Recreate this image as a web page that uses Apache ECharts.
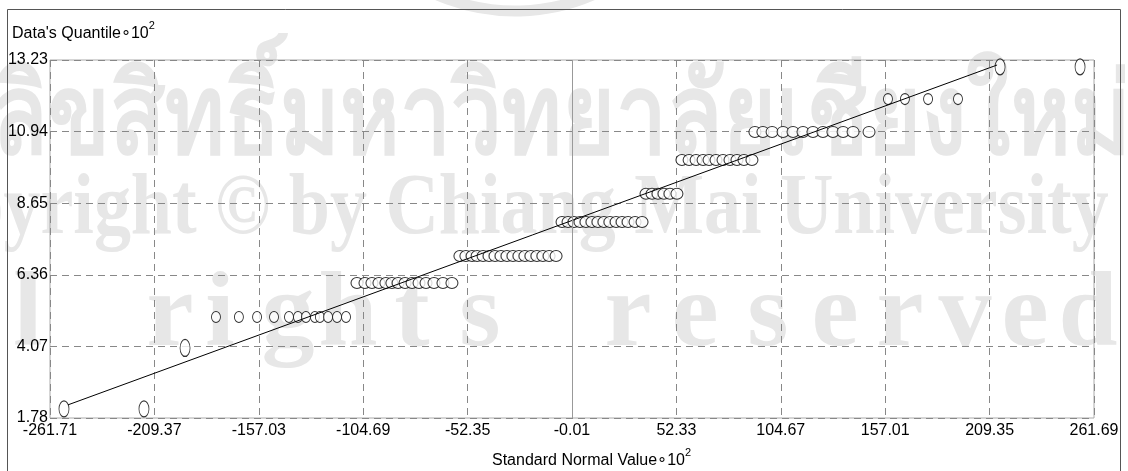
<!DOCTYPE html>
<html>
<head>
<meta charset="utf-8">
<title>Q-Q plot</title>
<script src="https://cdn.jsdelivr.net/npm/echarts@6/dist/echarts.min.js"></script>
<style>
  html, body { margin: 0; padding: 0; background: #fff; }
  #qq { width: 1128px; height: 471px; }
</style>
</head>
<body>
<div id="qq"></div>
<script>
// tick labels of both axes
var xTicks = [-261.71, -209.37, -157.03, -104.69, -52.35, -0.01, 52.33, 104.67, 157.01, 209.35, 261.69];
var yTicks = [1.78, 4.07, 6.36, 8.65, 10.94, 13.23];

// standard normal quantile (x100) of each observation
var normalX = [
  -254.7, -214.6,
  -194.0,
  -178.5, -167.0, -157.9, -149.4, -141.9, -137.4, -133.4, -128.9, -126.4, -122.3, -117.8, -113.3,
  -107.8, -103.8, -100.3, -96.8, -93.3, -90.3, -87.2, -83.7, -80.2, -76.7, -73.2, -69.2, -64.7, -60.2,
  -56.2, -53.2, -50.1, -47.6, -44.6, -41.6, -38.6, -35.6, -32.6, -29.6, -26.6, -23.6, -20.6, -17.6, -14.6, -11.5, -8.0,
  -5.0, -2.0, 1.0, 4.0, 7.0, 10.0, 13.0, 16.0, 19.0, 22.1, 25.1, 28.1, 31.6, 35.1,
  37.1, 40.1, 43.1, 46.1, 49.1, 52.6,
  55.1, 58.7, 62.2, 65.7, 68.7, 72.2, 75.7, 79.2, 82.7, 86.2, 90.2,
  91.7, 95.7, 100.3, 105.8, 110.8, 115.8, 120.8, 125.8, 130.8, 135.9, 140.9, 148.9,
  158.4, 166.9, 178.5, 193.5,
  214.6, 254.7
];
// data quantile (x100) of each observation
var dataY = [
  2.07, 2.07,
  4.02,
  5.01, 5.01, 5.01, 5.01, 5.01, 5.01, 5.01, 5.01, 5.01, 5.01, 5.01, 5.01,
  6.10, 6.10, 6.10, 6.10, 6.10, 6.10, 6.10, 6.10, 6.10, 6.10, 6.10, 6.10, 6.10, 6.10,
  6.96, 6.96, 6.96, 6.96, 6.96, 6.96, 6.96, 6.96, 6.96, 6.96, 6.96, 6.96, 6.96, 6.96, 6.96, 6.96, 6.96,
  8.05, 8.05, 8.05, 8.05, 8.05, 8.05, 8.05, 8.05, 8.05, 8.05, 8.05, 8.05, 8.05, 8.05,
  8.95, 8.95, 8.95, 8.95, 8.95, 8.95,
  10.03, 10.03, 10.03, 10.03, 10.03, 10.03, 10.03, 10.03, 10.03, 10.03, 10.03,
  10.93, 10.93, 10.93, 10.93, 10.93, 10.93, 10.93, 10.93, 10.93, 10.93, 10.93, 10.93,
  11.98, 11.98, 11.98, 11.98,
  13.01, 13.01
];
// reference line end points
var lineX = [-252.7, 213.1];
var lineY = [2.20, 13.07];

var FONT = "'Liberation Sans', Arial, sans-serif";
var SERIF = '"Liberation Serif", "DejaVu Serif", serif';
var WM = '#e7e7e7';

var points = normalX.map(function (x, i) { return [x, dataY[i]]; });
var refLine = lineX.map(function (x, i) { return [x, lineY[i]]; });

// watermark "All rights reserved", spread letter by letter
var wmLetters = 'lrightsreserved'.split('');
var wmLetterX = [28, 170, 220, 288, 348, 412, 480, 628, 695, 768, 835, 900, 965, 1025, 1088];
var wmRow = wmLetters.map(function (ch, i) {
  return {
    type: 'text', z: -1, silent: true, x: wmLetterX[i], y: 318,
    style: { text: ch, fill: WM, font: 'bold 106px ' + SERIF, align: 'center', verticalAlign: 'middle' }
  };
});

var titleRich = {
  a: { fontFamily: FONT, fontSize: 16, color: '#000', verticalAlign: 'bottom', lineHeight: 22 },
  s: { fontFamily: FONT, fontSize: 11, color: '#000', verticalAlign: 'top', lineHeight: 22 }
};

var myChart = echarts.init(document.getElementById('qq'));
var option = {
  backgroundColor: '#fff',
  animation: false,
  grid: {
    left: 50, top: 60, right: 34, bottom: 53,
    outerBoundsMode: 'none',
    show: true, borderColor: '#aaa', borderWidth: 1, backgroundColor: 'transparent'
  },
  xAxis: {
    type: 'value',
    min: xTicks[0], max: xTicks[xTicks.length - 1],
    interval: xTicks[1] - xTicks[0],
    axisLine: { show: false },
    axisTick: { show: false },
    axisLabel: {
      color: '#000', fontFamily: FONT, fontSize: 16, margin: 5,
      formatter: function (v) { return v.toFixed(2); }
    },
    splitLine: { lineStyle: { color: '#888', type: [7, 5], width: 1 } }
  },
  yAxis: {
    type: 'value',
    min: yTicks[0], max: yTicks[yTicks.length - 1],
    interval: yTicks[1] - yTicks[0],
    axisLine: { show: false },
    axisTick: { show: false },
    axisLabel: {
      color: '#000', fontFamily: FONT, fontSize: 16, margin: 2,
      formatter: function (v) { return v.toFixed(2); }
    },
    splitLine: { lineStyle: { color: '#888', type: [7, 5], width: 1 } }
  },
  series: [
    {
      type: 'scatter',
      data: points,
      symbol: 'circle',
      symbolSize: function (v) {
        if (v[1] < 3 || v[1] > 12.5) return [10, 16];
        if (v[1] < 4.5) return [10, 17];
        if (v[1] < 5.5 || (v[1] > 11.5 && v[1] < 12.5)) return [9, 11];
        return [12, 11];
      },
      itemStyle: { color: '#fff', borderColor: '#000', borderWidth: 1 },
      z: 2,
      markLine: {
        silent: true,
        symbol: 'none',
        label: { show: false },
        lineStyle: { color: '#999', type: 'solid', width: 1 },
        data: [{ xAxis: 0 }]
      }
    },
    {
      type: 'line',
      data: refLine,
      symbol: 'none',
      lineStyle: { color: '#000', width: 1 },
      z: 3
    }
  ],
  graphic: {
    elements: [
      // watermark
      {
        type: 'arc', z: -1, silent: true,
        shape: { cx: 515, cy: -185, r: 196, startAngle: 0.35, endAngle: Math.PI - 0.35 },
        style: { stroke: WM, lineWidth: 11, fill: null }
      },
      {
        type: 'text', z: -1, silent: true, x: -8, y: 68, scaleX: 0.81,
        style: { text: 'ลิขสิทธิ์มหาวิทยาลัยเชียงใหม่', fill: WM, font: 'bold 112px ' + SERIF }
      },
      {
        type: 'text', z: -1, silent: true, x: -128, y: 168, scaleX: 0.86,
        style: { text: 'Copyright \u00A9 by Chiang Mai University', fill: WM, font: 'bold 86px ' + SERIF }
      }
    ].concat(wmRow).concat([
      // outer frame
      {
        type: 'rect', z: 10, silent: true,
        shape: { x: 7.5, y: 9.5, width: 1113, height: 480 },
        style: { stroke: '#555', lineWidth: 1, fill: null }
      },
      // axis titles
      {
        type: 'text', z: 10, x: 12, y: 20,
        style: { text: "{a|Data's Quantile\u221810}{s|2}", rich: titleRich }
      },
      {
        type: 'text', z: 10, x: 492, y: 447,
        style: { text: '{a|Standard Normal Value\u221810}{s|2}', rich: titleRich }
      }
    ])
  }
};
myChart.setOption(option);
window.addEventListener('resize', function () { myChart.resize(); });
</script>
</body>
</html>
